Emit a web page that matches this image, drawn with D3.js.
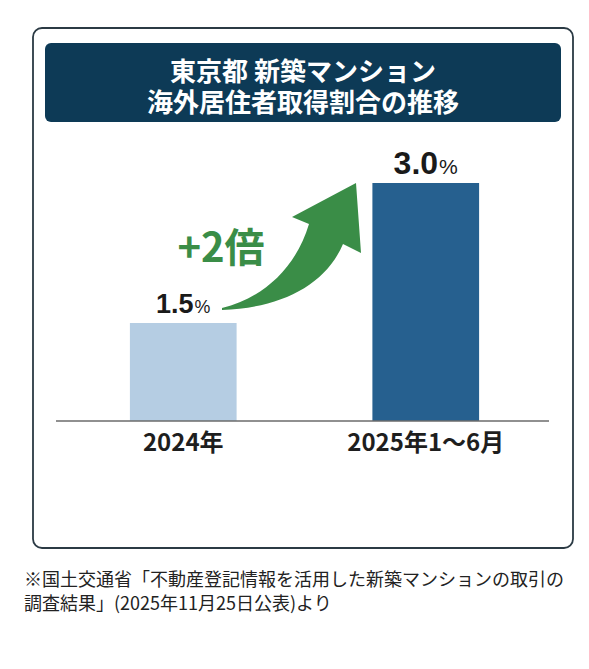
<!DOCTYPE html>
<html>
<head>
<meta charset="utf-8">
<script src="https://cdn.jsdelivr.net/npm/d3@7"></script>
<style>
  html, body { margin: 0; padding: 0; background: #ffffff; }
  svg { display: block; }
</style>
</head>
<body>
<div id="chart"></div>
<script>
const categories = ["2024年", "2025年1〜6月"];
const values = [1.5, 3.0];
const valueLabels = ["1.5", "3.0"];
const titleLines = ["東京都 新築マンション", "海外居住者取得割合の推移"];
const growthLabel = "+2倍";
const noteLines = [
  "※国土交通省「不動産登記情報を活用した新築マンションの取引の",
  "調査結果」(2025年11月25日公表)より"
];

const width = 589;
const height = 669;
const jp = "'Noto Sans CJK JP', 'Noto Sans', sans-serif";

const svg = d3
  .select("#chart")
  .append("svg")
  .attr("width", width)
  .attr("height", height);

// outer frame
svg
  .append("rect")
  .attr("x", 33)
  .attr("y", 28)
  .attr("width", 540)
  .attr("height", 520)
  .attr("rx", 9)
  .attr("fill", "#ffffff")
  .attr("stroke", "#2b3a44")
  .attr("stroke-width", 1.8);

// title banner
svg
  .append("rect")
  .attr("x", 45)
  .attr("y", 43)
  .attr("width", 516)
  .attr("height", 79)
  .attr("rx", 6)
  .attr("fill", "#0d3a56");

// both title lines in one text element
svg
  .append("text")
  .attr("text-anchor", "middle")
  .attr("fill", "#ffffff")
  .attr("font-family", jp)
  .attr("font-weight", 700)
  .attr("font-size", 26)
  .selectAll("tspan")
  .data(titleLines)
  .enter()
  .append("tspan")
  .attr("x", 303)
  .attr("y", (d, i) => 81 + i * 31)
  .text(d => d);

// scales
const x = d3
  .scaleBand()
  .domain(categories)
  .range([62, 547])
  .paddingInner(0.56)
  .paddingOuter(0.28);

const y = d3.scaleLinear().domain([0.45, 3.0]).range([421, 183]);

const colors = ["#b5cde3", "#26608f"];

svg
  .append("g")
  .selectAll("rect")
  .data(values)
  .enter()
  .append("rect")
  .attr("x", (d, i) => x(categories[i]))
  .attr("y", d => y(d))
  .attr("width", x.bandwidth())
  .attr("height", d => y.range()[0] - y(d))
  .attr("fill", (d, i) => colors[i]);

// baseline axis
const xAxis = svg
  .append("g")
  .attr("transform", `translate(0,${y.range()[0]})`)
  .call(d3.axisBottom(x).tickSize(0).tickPadding(10));

xAxis
  .select(".domain")
  .attr("d", "M56,0H549")
  .attr("stroke", "#6b6b6b")
  .attr("stroke-width", 1.6);

xAxis
  .selectAll(".tick text")
  .attr("font-family", jp)
  .attr("font-weight", 700)
  .attr("font-size", 24)
  .attr("fill", "#1e1e1e")
  .attr("dy", "0.82em");

// value labels
const valueSizes = [27, 32];
const labels = svg
  .append("g")
  .selectAll("text")
  .data(values)
  .enter()
  .append("text")
  .attr("x", (d, i) => x(categories[i]) + x.bandwidth() / 2)
  .attr("y", d => y(d) - (d > 2 ? 9 : 10))
  .attr("text-anchor", "middle")
  .attr("font-family", "'Liberation Sans', Arial, sans-serif")
  .attr("font-weight", 700)
  .attr("fill", "#1a1a1a");

labels
  .append("tspan")
  .attr("font-size", (d, i) => valueSizes[i])
  .text((d, i) => valueLabels[i]);

labels
  .append("tspan")
  .attr("font-size", (d, i) => valueSizes[i] * 0.66)
  .attr("font-weight", 400)
  .attr("dx", 1)
  .text("%");

// growth arrow
const green = "#3a8d47";
svg
  .append("path")
  .attr(
    "d",
    "M222,308 C262,298 295,270 309,224 L292,217 L356,183 L361,253 L343,244 C325,286 280,308 222,310 Z"
  )
  .attr("fill", green);

svg
  .append("text")
  .attr("x", 221)
  .attr("y", 262)
  .attr("text-anchor", "middle")
  .attr("font-family", jp)
  .attr("font-weight", 700)
  .attr("font-size", 40)
  .attr("fill", green)
  .text(growthLabel);

// source note
svg
  .append("g")
  .selectAll("text")
  .data(noteLines)
  .enter()
  .append("text")
  .attr("x", 24)
  .attr("y", (d, i) => 586 + i * 24)
  .attr("font-family", jp)
  .attr("font-size", 18)
  .attr("fill", "#222222")
  .text(d => d);
</script>
</body>
</html>
